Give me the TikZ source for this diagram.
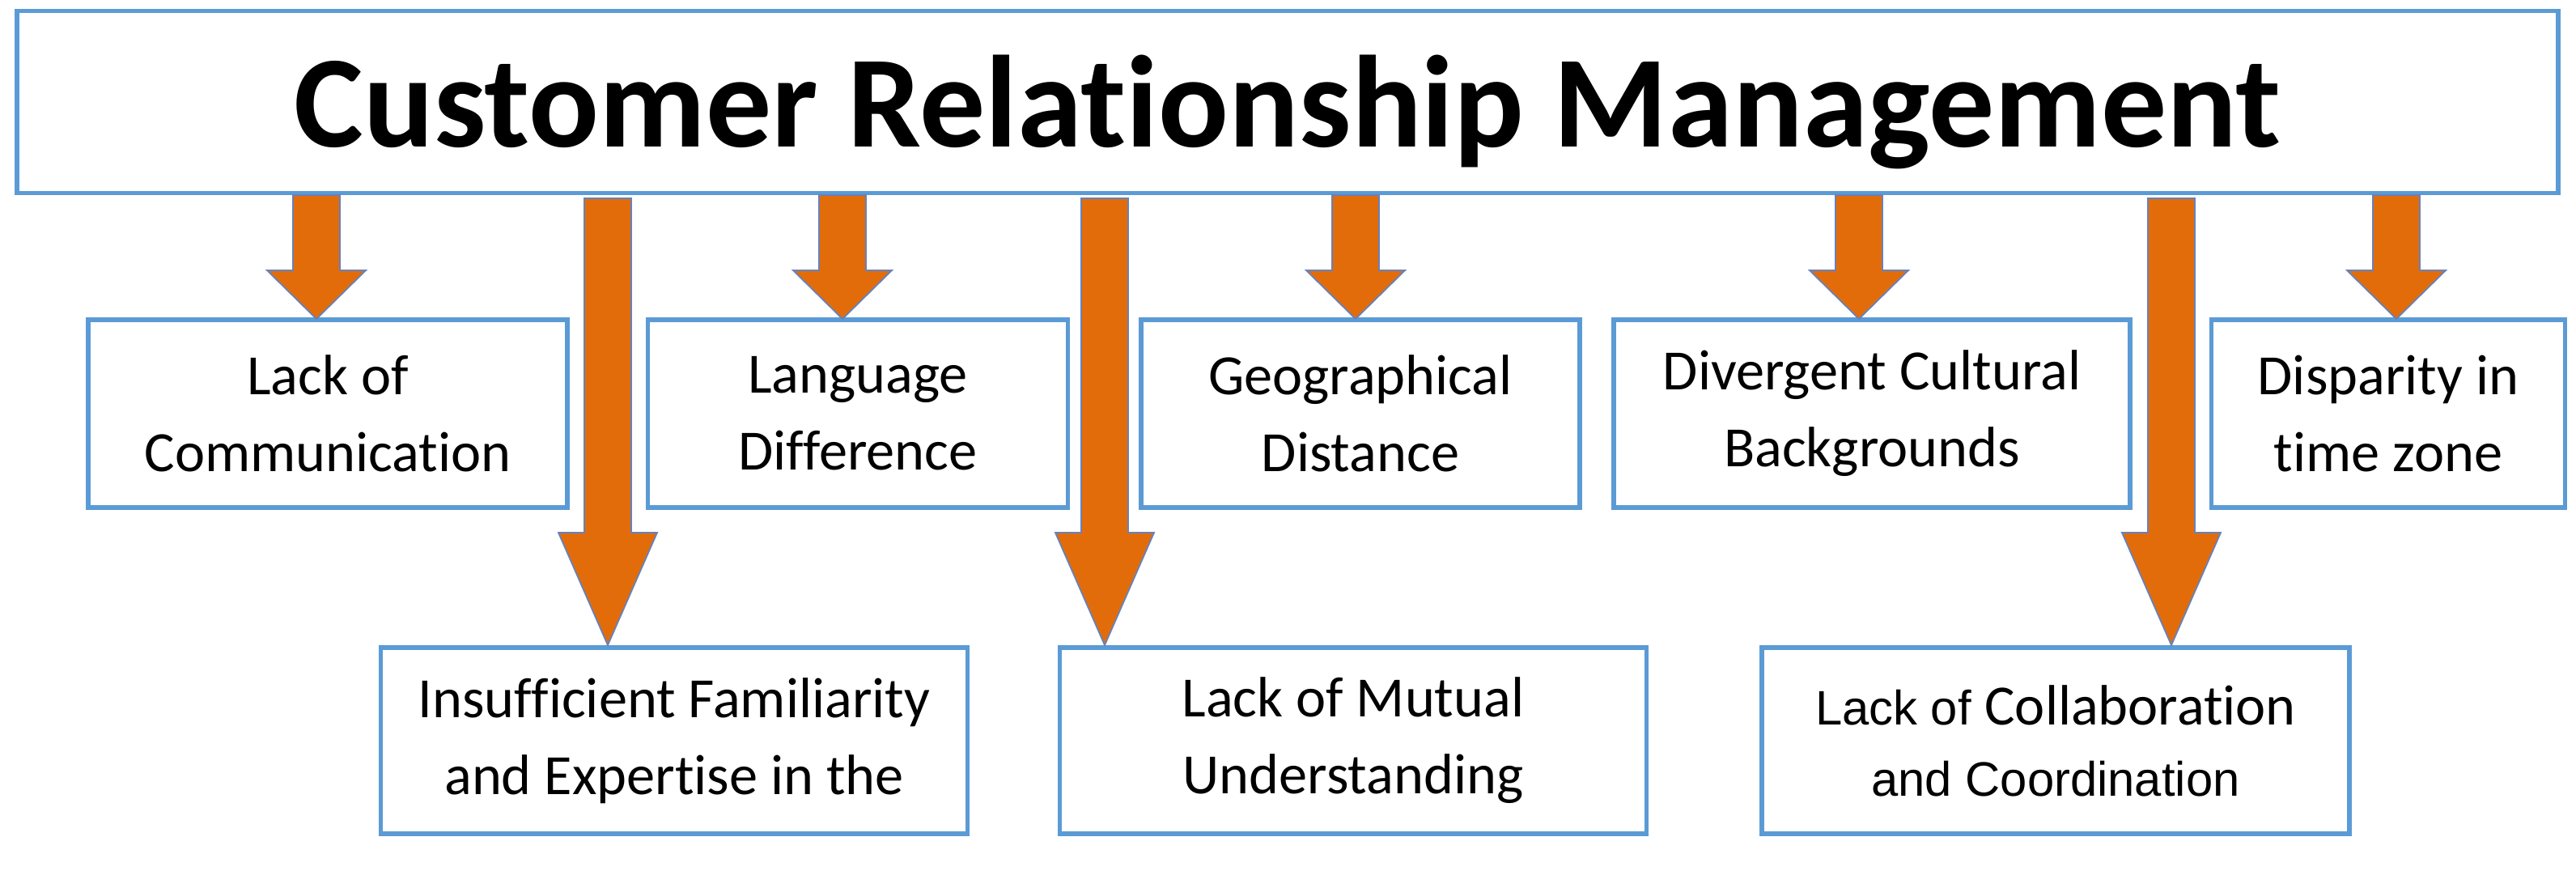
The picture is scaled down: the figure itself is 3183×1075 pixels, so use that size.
\documentclass[tikz,border=0pt]{standalone}
\usepackage{fontspec}
\setmainfont{Carlito}[RawFeature=-liga]
\newfontfamily\arialf{Liberation Sans}
\begin{document}
\begin{tikzpicture}[x=0.01cm,y=-0.01cm,
  box/.style={draw={rgb,255:red,91;green,155;blue,213},line width=1.6pt,fill=white,inner sep=0pt,align=center,font=\fontsize{20}{27}\selectfont},
  arr/.style={fill={rgb,255:red,227;green,108;blue,10},draw={rgb,255:red,100;green,130;blue,190},line width=0.5pt,line join=miter}]
\useasboundingbox (0,0) rectangle (3183,1075);
\node[box,minimum width=31.38cm,minimum height=2.25cm] (crm) at (1591,126) {};
\node[font=\fontsize{46}{56}\selectfont\bfseries,inner sep=0pt] (crmt) at (1591,138) {Customer Relationship Management};
\newcommand{\bx}[6]{\node[box,minimum width=#3*0.01cm,minimum height=#4*0.01cm] (#5) at (#1,#2) {#6};}
\bx{405}{511}{592}{232}{b1}{Lack of\\Communication}
\bx{1060}{511}{519}{232}{b2}{Language\\Difference}
\bx{1681}{511}{542}{232}{b3}{Geographical\\Distance}
\bx{2313}{511}{638}{232}{b4}{Divergent Cultural\\Backgrounds}
\bx{2951}{511}{437}{232}{b5}{Disparity in\\time zone}
\bx{833}{915}{725}{230}{b6}{Insufficient Familiarity\\and Expertise in the}
\bx{1672}{915}{725}{230}{b7}{Lack of Mutual\\Understanding}
\node[box,minimum width=7.25cm,minimum height=2.3cm] (b8) at (2540,915) {{\arialf\fontsize{17}{20}\selectfont Lack of }Collaboration\\[-2pt]{\arialf\fontsize{17}{20}\selectfont and Coordination}};
% arrows: center x, top y, head start y, tip y
\newcommand{\darrow}[4]{\draw[arr] (#1-29,#2) -- (#1+29,#2) -- (#1+29,#3) -- (#1+61,#3) -- (#1,#4) -- (#1-61,#3) -- (#1-29,#3) -- cycle;}
\darrow{391}{241}{334}{394}
\darrow{1041}{241}{334}{394}
\darrow{1675}{241}{334}{394}
\darrow{2297}{241}{334}{394}
\darrow{2961}{241}{334}{394}
\darrow{751}{245}{658}{797}
\darrow{1365}{245}{658}{797}
\darrow{2683}{245}{658}{797}
\end{tikzpicture}
\end{document}
